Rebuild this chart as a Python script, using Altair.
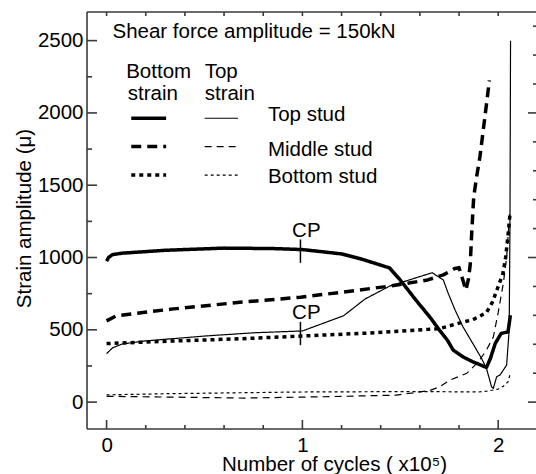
import altair as alt
import pandas as pd

# Strain amplitude (micro-strain) against number of cycles (x10^5)
# Top stud
TOP_BOT_X = [0.0, 0.01, 0.03, 0.08, 0.3, 0.6, 0.85, 1.0, 1.2, 1.3, 1.445, 1.5, 1.58, 1.65, 1.70,
             1.74, 1.77, 1.82, 1.87, 1.94, 1.96, 1.985, 2.015, 2.05, 2.058, 2.062]
TOP_BOT_Y = [975, 1000, 1020, 1030, 1050, 1065, 1062, 1055, 1025, 990, 928, 844, 705, 590, 498,
             429, 360, 313, 279, 240, 302, 406, 475, 486, 560, 600]
TOP_TOP_X = [0.0, 0.03, 0.08, 0.19, 0.5, 0.76, 1.0, 1.21, 1.32, 1.445, 1.663, 1.72, 1.745, 1.78,
             1.82, 1.87, 1.915, 1.94, 1.966, 1.975, 1.992, 2.009, 2.026, 2.043, 2.056, 2.06, 2.063]
TOP_TOP_Y = [335, 375, 402, 422, 457, 480, 492, 597, 713, 802, 895, 844, 751, 636,
             521, 406, 302, 233, 106, 95, 175, 187, 221, 256, 498, 1200, 2500]
# Middle stud
MID_BOT_X = [0.0, 0.05, 0.33, 0.68, 0.99, 1.2, 1.445, 1.64, 1.72, 1.78, 1.80, 1.835, 1.848,
             1.857, 1.865, 1.875, 1.89, 1.907, 1.93, 1.955]
MID_BOT_Y = [562, 597, 643, 690, 725, 760, 802, 845, 880, 925, 930, 775, 850,
             950, 1180, 1420, 1560, 1700, 1950, 2225]
MID_TOP_X = [0.0, 0.3, 0.7, 1.1, 1.48, 1.65, 1.70, 1.75, 1.84, 1.90, 1.94, 1.975, 2.0, 2.026,
             2.043, 2.052, 2.058]
MID_TOP_Y = [40, 35, 28, 37, 48, 80, 105, 150, 200, 280, 360, 450, 620, 820,
             1000, 1180, 1300]
# Bottom stud
BOT_BOT_X = [0.0, 0.33, 0.68, 1.0, 1.375, 1.64, 1.70, 1.81, 1.87, 1.90, 1.94, 1.97, 2.0, 2.024,
             2.038, 2.052, 2.06]
BOT_BOT_Y = [405, 422, 438, 457, 480, 503, 508, 550, 570, 590, 620, 690, 800, 890,
             1000, 1180, 1300]
BOT_TOP_X = [0.0, 0.3, 0.7, 1.0, 1.4, 1.7, 1.9, 1.94, 2.0, 2.026, 2.05, 2.06]
BOT_TOP_Y = [50, 58, 65, 70, 72, 72, 70, 75, 90, 110, 140, 190]

STUDS = ["Top stud", "Middle stud", "Bottom stud"]

# Axis tick values
X_LABELS = [0, 1, 2]
X_MINOR = [0.2, 0.4, 0.6, 0.8, 1.2, 1.4, 1.6, 1.8]
X_TOP = [0, 0.2, 0.4, 0.6, 0.8, 1.0, 1.2, 1.4, 1.6, 1.8, 2.0]
Y_LABELS = [0, 500, 1000, 1500, 2000, 2500]
Y_MINOR = [250, 750, 1250, 1750, 2250]
Y_RIGHT = [0, 200, 400, 600, 800, 1000, 1200, 1400, 1600, 1800, 2000, 2200, 2400, 2600]

# "CP" marks: cycle position, lower/upper end of the marker, label height
CP_X = [0.99, 0.99]
CP_LO = [963, 394]
CP_HI = [1125, 555]
CP_LABEL_Y = [1184, 619]

X_DOMAIN = [-0.1, 2.193]
Y_DOMAIN = [-186, 2698]
W, H = 449, 417
FONT = "Liberation Sans"
FS = 20.5
FRAME = "#3a3a3a"


def dx(px):
    return px * (X_DOMAIN[1] - X_DOMAIN[0]) / W


def dy(px):
    return px * (Y_DOMAIN[1] - Y_DOMAIN[0]) / H


xs = alt.Scale(domain=X_DOMAIN, nice=False, zero=False)
ys = alt.Scale(domain=Y_DOMAIN, nice=False, zero=False)

x_axis = alt.Axis(values=X_LABELS, format="d", domain=False, ticks=False, tickSize=0,
                  grid=False, labelPadding=6, title="Number of cycles ( x10⁵)",
                  titleX=247, titleY=41, titleBaseline="alphabetic", titleAlign="center")
y_axis = alt.Axis(values=Y_LABELS, format="d", domain=False, ticks=False, tickSize=0,
                  grid=False, labelPadding=4, title="Strain amplitude (μ)",
                  titleX=-63, titleY=206, titleAngle=270, titleBaseline="middle",
                  titleAlign="center")


def X(field):
    return alt.X(field, scale=xs, axis=x_axis)


def Y(field):
    return alt.Y(field, scale=ys, axis=y_axis)


# Curves: (series key, weight, dash pattern, x, y)
series = [
    ("top_b", "thick", [1, 0], TOP_BOT_X, TOP_BOT_Y),
    ("mid_b", "thick", [10, 6], MID_BOT_X, MID_BOT_Y),
    ("bot_b", "thick", [4, 4], BOT_BOT_X, BOT_BOT_Y),
    ("top_t", "thin", [1, 0], TOP_TOP_X, TOP_TOP_Y),
    ("mid_t", "thin", [7, 5], MID_TOP_X, MID_TOP_Y),
    ("bot_t", "thin", [3, 3], BOT_TOP_X, BOT_TOP_Y),
]
keys = [s[0] for s in series]
dash_scale = alt.Scale(domain=keys, range=[s[2] for s in series])

rows = []
for key, weight, _, xv, yv in series:
    for i, (x, y) in enumerate(zip(xv, yv)):
        rows.append({"key": key, "weight": weight, "i": i, "x": x, "y": y})
curves = pd.DataFrame(rows)


def curve_layer(weight, width):
    return alt.Chart(curves).transform_filter(
        alt.datum.weight == weight
    ).mark_line(color="black", strokeWidth=width, strokeCap="butt", strokeJoin="round",
                clip=True).encode(
        x=X("x:Q"),
        y=Y("y:Q"),
        detail="key:N",
        order="i:Q",
        strokeDash=alt.StrokeDash("key:N", scale=dash_scale, legend=None),
    )


# Frame and inward tick marks
X0, X1 = X_DOMAIN
Y0, Y1 = Y_DOMAIN
seg = [
    {"x": X0, "x2": X0, "y": Y0, "y2": Y1},
    {"x": X0, "x2": X1, "y": Y0, "y2": Y0},
    {"x": X0, "x2": X1, "y": Y1, "y2": Y1},
]
for v in X_LABELS:
    seg.append({"x": v, "x2": v, "y": Y0, "y2": Y0 + dy(9)})
for v in X_MINOR:
    seg.append({"x": v, "x2": v, "y": Y0, "y2": Y0 + dy(4)})
for v in X_TOP:
    seg.append({"x": v, "x2": v, "y": Y1, "y2": Y1 - dy(4)})
for v in Y_LABELS:
    seg.append({"x": X0, "x2": X0 + dx(10), "y": v, "y2": v})
for v in Y_MINOR:
    seg.append({"x": X0, "x2": X0 + dx(5), "y": v, "y2": v})
for v in Y_RIGHT:
    seg.append({"x": X1, "x2": X1 - dx(8 if v % 1000 == 0 else 3), "y": v, "y2": v})
frame = alt.Chart(pd.DataFrame(seg)).mark_rule(color=FRAME, strokeWidth=1.6).encode(
    x=X("x:Q"), x2="x2:Q", y=Y("y:Q"), y2="y2:Q",
)

# Legend samples
LEG_BOT = [0.126, 0.304]
LEG_TOP = [0.501, 0.671]
LEG_Y = [1963, 1767, 1570]
leg_rows = []
for j, (kb, kt) in enumerate([("top_b", "top_t"), ("mid_b", "mid_t"), ("bot_b", "bot_t")]):
    leg_rows.append({"key": kb, "weight": "thick", "x": LEG_BOT[0], "x2": LEG_BOT[1], "y": LEG_Y[j]})
    leg_rows.append({"key": kt, "weight": "thin", "x": LEG_TOP[0], "x2": LEG_TOP[1], "y": LEG_Y[j]})
leg = pd.DataFrame(leg_rows)


def legend_layer(weight, width):
    return alt.Chart(leg).transform_filter(alt.datum.weight == weight).mark_rule(
        color="black", strokeWidth=width, strokeCap="butt").encode(
        x=X("x:Q"), x2="x2:Q", y=Y("y:Q"),
        strokeDash=alt.StrokeDash("key:N", scale=dash_scale, legend=None),
    )


labels = pd.DataFrame([
    {"x": 0.030, "y": 2557, "t": "Shear force amplitude = 150kN"},
    {"x": 0.100, "y": 2282, "t": "Bottom"},
    {"x": 0.108, "y": 2130, "t": "strain"},
    {"x": 0.501, "y": 2282, "t": "Top"},
    {"x": 0.501, "y": 2130, "t": "strain"},
    {"x": 0.824, "y": 1985, "t": STUDS[0]},
    {"x": 0.824, "y": 1743, "t": STUDS[1]},
    {"x": 0.824, "y": 1558, "t": STUDS[2]},
])
texts = alt.Chart(labels).mark_text(align="left", baseline="middle", font=FONT,
                                    fontSize=FS, color="black").encode(
    x=X("x:Q"), y=Y("y:Q"), text="t:N")

cp = pd.DataFrame({"x": CP_X, "lo": CP_LO, "hi": CP_HI, "ly": CP_LABEL_Y,
                   "lx": [v + 0.03 for v in CP_X], "t": ["CP", "CP"]})
cp_rules = alt.Chart(cp).mark_rule(color="black", strokeWidth=1.5).encode(
    x=X("x:Q"), y=Y("lo:Q"), y2="hi:Q")
cp_text = alt.Chart(cp).mark_text(align="center", baseline="middle", font=FONT,
                                  fontSize=FS, color="black").encode(
    x=X("lx:Q"), y=Y("ly:Q"), text="t:N")

chart = alt.layer(
    curve_layer("thick", 3.5),
    curve_layer("thin", 1.2),
    frame,
    legend_layer("thick", 3.5),
    legend_layer("thin", 1.2),
    cp_rules,
    texts,
    cp_text,
).properties(
    width=W, height=H,
    padding={"left": 87, "top": 12, "right": 0, "bottom": 45},
    autosize=alt.AutoSizeParams(type="none"),
    background="white",
).configure_view(stroke=None).configure_axis(
    labelFont=FONT, titleFont=FONT, labelFontSize=FS, titleFontSize=FS,
    labelColor="black", titleColor="black", titleFontWeight="normal",
)

chart.save("out.html", embed_options={"renderer": "svg", "actions": False})
